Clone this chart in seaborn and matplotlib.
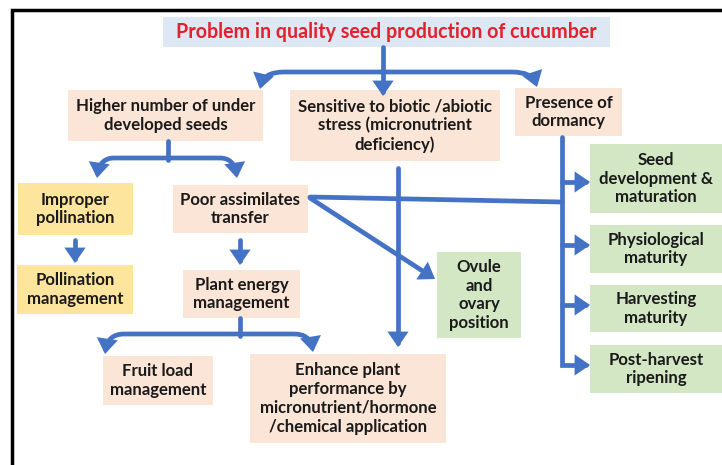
import matplotlib
matplotlib.use('Agg')
import matplotlib.pyplot as plt
from matplotlib.patches import Rectangle, FancyArrowPatch
from matplotlib.path import Path
import seaborn as sns

sns.set_theme(style='white')
plt.rcParams['font.family'] = ['Lato', 'DejaVu Sans']

# box texts
title_text = 'Problem in quality seed production of cucumber'
level1 = ['Higher number of under\ndeveloped seeds',
          'Sensitive to biotic /abiotic\nstress (micronutrient\ndeficiency)',
          'Presence of\ndormancy']
left_items = ['Improper\npollination', 'Pollination\nmanagement']
assim_items = ['Poor assimilates\ntransfer', 'Plant energy\nmanagement',
               'Fruit load\nmanagement',
               'Enhance plant\nperformance by\nmicronutrient/hormone\n/chemical application']
ovule_text = 'Ovule\nand\novary\nposition'
dormancy_items = ['Seed\ndevelopment &\nmaturation', 'Physiological\nmaturity',
                  'Harvesting\nmaturity', 'Post-harvest\nripening']

# colours
peach = '#fbe5d6'
yellow = '#fee59d'
green = '#d3e7c5'
light_blue = '#dde8f4'
arrow_blue = '#4472c4'
title_red = '#e3202b'

# layout in pixel space: (x0, y0, x1, y1)
title_box = (163, 17, 610, 47)
level1_boxes = [(68, 90, 263, 141), (290, 90, 500, 161), (515, 88, 622, 136)]
left_boxes = [(18, 183, 133, 235), (17, 265, 133, 314)]
assim_boxes = [(173, 185, 308, 233), (183, 270, 300, 318),
               (103, 356, 213, 405), (250, 354, 446, 443)]
ovule_box = (437, 252, 521, 338)
dormancy_boxes = [(590, 144, 722, 213), (590, 225, 722, 273),
                  (590, 285, 722, 332), (590, 345, 722, 393)]

fig = plt.figure(figsize=(7.22, 4.65), dpi=100)
ax = fig.add_axes([0, 0, 1, 1])
ax.set_xlim(0, 722)
ax.set_ylim(465, 0)
ax.axis('off')


def box(b, text, fc, color='#1a1a1a', size=12.1):
    x0, y0, x1, y1 = b
    ax.add_patch(Rectangle((x0, y0), x1 - x0, y1 - y0, fc=fc, ec='none', zorder=1))
    ax.text((x0 + x1) / 2, (y0 + y1) / 2, text, ha='center', va='center',
            fontsize=size, fontweight='bold', color=color, linespacing=1.22, zorder=3)


def arrow(pts, head=True, curve=False):
    if curve:
        codes = [Path.MOVETO, Path.LINETO, Path.CURVE3, Path.CURVE3]
    else:
        codes = [Path.MOVETO] + [Path.LINETO] * (len(pts) - 1)
    style = '-|>,head_length=0.32,head_width=0.22' if head else '-'
    p = FancyArrowPatch(path=Path(pts, codes), arrowstyle=style, mutation_scale=20,
                        color=arrow_blue, lw=3.4, joinstyle='miter', zorder=2)
    ax.add_patch(p)


# frame
ax.plot([12, 12, 722], [465, 10, 10], color='black', lw=2.5, solid_joinstyle='miter',
        solid_capstyle='butt', zorder=4)

box(title_box, title_text, light_blue, color=title_red, size=14.1)
for b, t in zip(level1_boxes, level1):
    box(b, t, peach)
for b, t, c in zip(left_boxes, left_items, [yellow, yellow]):
    box(b, t, c)
for b, t in zip(assim_boxes, assim_items):
    box(b, t, peach)
box(ovule_box, ovule_text, green)
for b, t in zip(dormancy_boxes, dormancy_items):
    box(b, t, green)

# top split
arrow([(383, 47), (383, 96)])
arrow([(383, 72), (284, 72), (264, 72), (260, 89)], curve=True)
arrow([(383, 72), (512, 72), (532, 72), (537, 87)], curve=True)

# under developed seeds split
arrow([(168, 141), (168, 160)], head=False)
arrow([(168, 158), (114, 158), (100, 158), (97, 178)], curve=True)
arrow([(168, 158), (220, 158), (234, 158), (237, 178)], curve=True)

# pollination and assimilates
arrow([(75, 240), (75, 263)])
arrow([(240, 240), (240, 265)])

# plant energy split
arrow([(240, 318), (240, 336)], head=False)
arrow([(240, 334), (124, 334), (108, 334), (105, 354)], curve=True)
arrow([(240, 334), (294, 334), (310, 334), (313, 352)], curve=True)

# stress line
arrow([(398, 168), (398, 347)])

# poor assimilates links
arrow([(310, 197), (562, 202)], head=False)
arrow([(310, 198), (435, 279)])

# dormancy branch
arrow([(562, 137), (562, 365), (590, 365)])
for y in [182, 245, 305]:
    arrow([(562, y), (590, y)])

fig.savefig('out.png', dpi=100, facecolor='white')
